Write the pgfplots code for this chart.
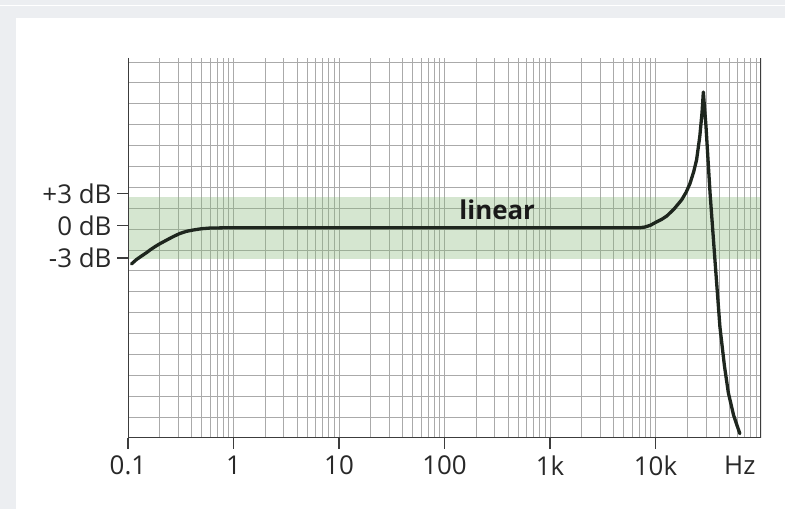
\documentclass[border=0pt]{standalone}
\usepackage{pgfplots}
\pgfplotsset{compat=1.18}
\usepackage{fontspec}
\setmainfont{Open Sans}
\definecolor{bggray}{RGB}{236,238,241}
\definecolor{bandgreen}{RGB}{135,184,121}
\definecolor{gridc}{RGB}{170,170,170}
\definecolor{curvec}{RGB}{30,38,30}
\definecolor{axisc}{RGB}{60,60,60}
\definecolor{textc}{RGB}{40,40,40}
\begin{document}
\begin{tikzpicture}[x=1bp,y=1bp]
\fill[bggray] (0,0) rectangle (785,509);
\fill[white] (0,502.5) rectangle (785,504);
\fill[white] (16,0) rectangle (785,491);
\begin{axis}[
  at={(128bp,71bp)}, anchor=south west,
  scale only axis, width=633bp, height=380bp,
  xmode=log, xmin=0.1, xmax=1e5,
  ymin=-19.7, ymax=15.56,
  axis line style={draw=none},
  xtick={0.1,1,10,100,1000,10000},
  xticklabels={0.1,1,10,100,1k,10k},
  extra x ticks={63000}, extra x tick labels={Hz},
  extra x tick style={major tick length=0pt, grid=none, xticklabel style={yshift=-11bp}},
  minor xtick={0.2,0.3,0.4,0.5,0.6,0.7,0.8,0.9,2,3,4,5,6,7,8,9,20,30,40,50,60,70,80,90,200,300,400,500,600,700,800,900,2000,3000,4000,5000,6000,7000,8000,9000,20000,30000,40000,50000,60000,70000,80000,90000},
  ytick={-3,0,3},
  yticklabels={-3 dB,0 dB,+3 dB},
  minor ytick={-17.761,-15.822,-13.883,-11.944,-10.006,-8.067,-6.128,-4.189,-2.250,-0.311,1.628,3.567,5.506,7.444,9.383,11.322,13.261,15.2},
  xmajorgrids=true, xminorgrids=true,
  ymajorgrids=false, yminorgrids=true,
  grid style={gridc, line width=0.7bp},
  minor grid style={gridc, line width=0.7bp},
  tick align=outside,
  major tick length=11bp,
  minor tick length=0pt,
  xtick pos=bottom, ytick pos=left,
  tick style={axisc, line width=1.3bp},
  tick label style={font=\fontsize{26}{30}\selectfont, text=textc},
  xticklabel style={yshift=-3bp},
  yticklabel style={xshift=-2bp},
]
\addplot[fill=bandgreen, fill opacity=0.35, draw=none] coordinates {(0.1,-3.1) (1e5,-3.1) (1e5,2.7) (0.1,2.7)} -- cycle;
\addplot[curvec, line width=3.3bp, line join=round, line cap=round] coordinates {
(0.108,-3.55) (0.12,-3.15) (0.135,-2.8) (0.15,-2.5) (0.162,-2.25) (0.18,-1.95)
(0.2,-1.68) (0.233,-1.33) (0.27,-1.0) (0.311,-0.72) (0.36,-0.52) (0.416,-0.4)
(0.5,-0.28) (0.6,-0.22) (0.8,-0.2) (1,-0.2) (10,-0.2) (100,-0.2) (1000,-0.2)
(7000,-0.2) (8000,-0.12) (9000,0.05) (10000,0.3) (11500,0.6) (12800,0.9)
(15000,1.55) (17700,2.4) (19500,3.1) (21200,3.9) (23000,5.0) (24500,6.1)
(26300,8.3) (27600,10.5) (28400,12.4) (30100,9.2) (32900,3.0) (36600,-3.2)
(40800,-9.4) (45000,-13.0) (49000,-15.5) (55000,-17.6) (63000,-19.3)
};
\draw[axisc, line width=1.3bp] (rel axis cs:0,1) -- (rel axis cs:0,0) -- (rel axis cs:1,0) -- (rel axis cs:1,1);
\node[font=\bfseries\fontsize{26}{30}\selectfont, text=black!90] at (axis cs:316,1.5) {linear};
\end{axis}
\end{tikzpicture}
\end{document}
